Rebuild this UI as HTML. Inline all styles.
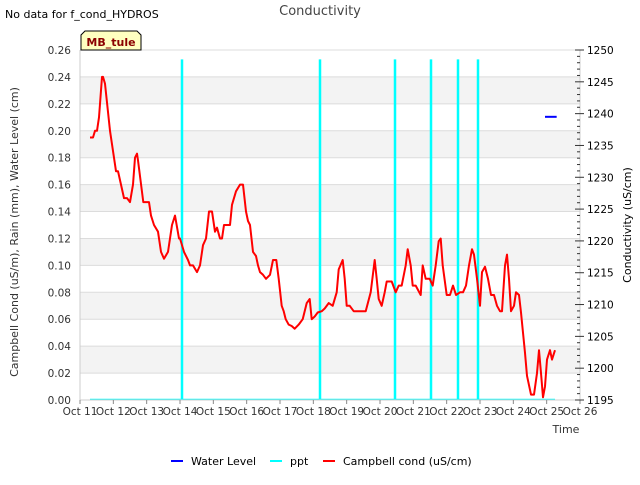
<!DOCTYPE html>
<html><head><meta charset="utf-8">
<style>
body{margin:0;background:#fff;}
svg{font-family:"DejaVu Sans","Liberation Sans",sans-serif;}
</style></head>
<body>
<svg id="chart" width="640" height="480" viewBox="0 0 640 480" xmlns="http://www.w3.org/2000/svg">
<g id="bands"></g>
<g id="grid"></g>
<g id="series"></g>
<g id="axes"></g>
<text x="5" y="18" font-size="11" fill="#000">No data for f_cond_HYDROS</text>
<text x="320" y="15" font-size="13" fill="#444" text-anchor="middle">Conductivity</text>
<g>
<path d="M81,50 L81,35 L85,31 L137,31 L141,35 L141,50 Z" fill="#ffffc0" stroke="#000" stroke-width="1"/>
<text x="111" y="46" font-size="11" font-weight="bold" fill="#8b0000" text-anchor="middle">MB_tule</text>
</g>
<text transform="translate(18,232) rotate(-90)" font-size="11" fill="#333" text-anchor="middle">Campbell Cond (uS/m), Rain (mm), Water Level (cm)</text>
<text transform="translate(631,225) rotate(-90)" font-size="11" fill="#000" text-anchor="middle">Conductivity (uS/cm)</text>
<text x="566" y="433" font-size="11" fill="#333" text-anchor="middle">Time</text>
<g>
<g><line x1="171" y1="461" x2="183" y2="461" stroke="#0000ff" stroke-width="2"/><text x="191" y="465" font-size="11">Water Level</text></g>
<g><line x1="270" y1="461" x2="282" y2="461" stroke="#00ffff" stroke-width="2"/><text x="290" y="465" font-size="11">ppt</text></g>
<g><line x1="323" y1="461" x2="335" y2="461" stroke="#ff0000" stroke-width="2"/><text x="343" y="465" font-size="11">Campbell cond (uS/cm)</text></g>
</g>
</svg>
<script>
const xTickLabels=["Oct 11","Oct 12","Oct 13","Oct 14","Oct 15","Oct 16","Oct 17","Oct 18","Oct 19","Oct 20","Oct 21","Oct 22","Oct 23","Oct 24","Oct 25","Oct 26"];
const yTicks=[0,0.02,0.04,0.06,0.08,0.10,0.12,0.14,0.16,0.18,0.20,0.22,0.24,0.26];
const y2Ticks=[1195,1200,1205,1210,1215,1220,1225,1230,1235,1240,1245,1250];
const condDays=[0.3,0.39,0.45,0.51,0.57,0.66,0.69,0.75,0.9,0.99,1.08,1.14,1.23,1.32,1.41,1.5,1.59,1.65,1.71,1.74,1.9,2.07,2.13,2.22,2.34,2.43,2.52,2.64,2.76,2.85,2.97,3.0,3.12,3.24,3.3,3.39,3.51,3.6,3.69,3.78,3.87,3.96,4.05,4.11,4.2,4.26,4.32,4.44,4.5,4.56,4.68,4.8,4.89,4.98,5.04,5.1,5.19,5.28,5.34,5.4,5.49,5.58,5.7,5.79,5.89,5.96,6.05,6.11,6.17,6.26,6.35,6.44,6.56,6.68,6.8,6.89,6.95,7.04,7.13,7.25,7.34,7.46,7.58,7.7,7.76,7.88,7.94,8.0,8.09,8.21,8.33,8.57,8.72,8.84,8.9,8.96,9.05,9.14,9.2,9.35,9.47,9.56,9.65,9.77,9.83,9.92,9.98,10.07,10.22,10.28,10.37,10.49,10.58,10.67,10.76,10.82,10.88,11.0,11.1,11.19,11.28,11.4,11.49,11.58,11.67,11.76,11.82,11.91,12.0,12.06,12.15,12.24,12.33,12.42,12.51,12.6,12.66,12.75,12.81,12.87,12.93,13.02,13.08,13.17,13.23,13.29,13.35,13.41,13.53,13.62,13.71,13.77,13.83,13.89,13.95,14.01,14.1,14.16,14.25];
const condValues=[0.195,0.195,0.2,0.2,0.21,0.24,0.24,0.235,0.2,0.185,0.17,0.17,0.16,0.15,0.15,0.147,0.16,0.18,0.183,0.178,0.147,0.147,0.137,0.13,0.125,0.11,0.105,0.11,0.13,0.137,0.12,0.12,0.11,0.104,0.1,0.1,0.095,0.1,0.115,0.12,0.14,0.14,0.125,0.128,0.12,0.12,0.13,0.13,0.13,0.145,0.155,0.16,0.16,0.14,0.133,0.13,0.11,0.107,0.1,0.095,0.093,0.09,0.093,0.104,0.104,0.09,0.07,0.066,0.06,0.056,0.055,0.053,0.056,0.06,0.072,0.075,0.06,0.062,0.065,0.066,0.068,0.072,0.07,0.08,0.097,0.104,0.09,0.07,0.07,0.066,0.066,0.066,0.08,0.104,0.09,0.075,0.07,0.08,0.088,0.088,0.08,0.085,0.085,0.1,0.112,0.1,0.085,0.085,0.078,0.1,0.09,0.09,0.085,0.1,0.118,0.12,0.1,0.078,0.078,0.085,0.078,0.08,0.08,0.085,0.1,0.112,0.108,0.09,0.07,0.095,0.099,0.09,0.078,0.078,0.07,0.066,0.066,0.1,0.108,0.09,0.066,0.07,0.08,0.078,0.065,0.05,0.035,0.018,0.004,0.004,0.02,0.037,0.02,0.002,0.01,0.03,0.037,0.03,0.037,0.04];
const pptDays=[3.06,7.2,9.45,10.53,11.34,11.94];
const pptValues=[0.253,0.253,0.253,0.253,0.253,0.253];
const waterDays=[13.95,14.3];
const waterValues=[1239.5,1239.5];

const NS="http://www.w3.org/2000/svg";
const L=80,R=580,T=50,B=400;
const xS=d=>L+d*(R-L)/15;
const yS=v=>B-v*(B-T)/0.26;
const y2S=v=>B-(v-1195)*(B-T)/55;
function mk(tag,attrs,parent){const e=document.createElementNS(NS,tag);for(const k in attrs)e.setAttribute(k,attrs[k]);parent.appendChild(e);return e;}
const bands=document.getElementById('bands'),grid=document.getElementById('grid'),series=document.getElementById('series'),axes=document.getElementById('axes');
for(let i=1;i<yTicks.length-1;i+=2){
  const r=mk('rect',{x:L,y:yS(yTicks[i+1]),width:R-L,height:yS(yTicks[i])-yS(yTicks[i+1]),fill:'#f3f3f3'},bands);
  
  
}
yTicks.forEach(v=>{
  const g=mk('line',{x1:L,x2:R,y1:yS(v),y2:yS(v),stroke:'#dcdcdc','stroke-width':1},grid);
  
  
  const t=mk('text',{x:L-9,y:yS(v)+4,'font-size':10.5,fill:'#333','text-anchor':'end'},axes);
  t.textContent=v.toFixed(2);
  
  
});
mk('line',{x1:L,x2:L,y1:T,y2:B,stroke:'#ccc'},axes);
mk('line',{x1:L,x2:R,y1:B,y2:B,stroke:'#ccc'},axes);
mk('line',{x1:R,x2:R,y1:T,y2:B,stroke:'#ccc'},axes);
xTickLabels.forEach((s,i)=>{
  mk('line',{x1:xS(i),x2:xS(i),y1:B,y2:B+4,stroke:'#888'},axes);
  const t=mk('text',{x:xS(i),y:B+15,'font-size':10.5,fill:'#333','text-anchor':'middle'},axes);
  t.textContent=s;
  
  
});
for(let v=1195;v<=1250;v++){
  const major=(v%5===0);
  mk('line',{x1:R,x2:R-(major?5:3),y1:y2S(v),y2:y2S(v),stroke:'#333'},axes);
}
y2Ticks.forEach(v=>{
  mk('line',{x1:R,x2:R+4,y1:y2S(v),y2:y2S(v),stroke:'#333'},axes);
  const t=mk('text',{x:R+7,y:y2S(v)+4,'font-size':10.5,fill:'#000'},axes);
  t.textContent=v;
  
  
});
const base=mk('line',{x1:xS(0.3),x2:xS(14.25),y1:yS(0)-0.5,y2:yS(0)-0.5,stroke:'#00ffff','stroke-width':1.5},series);


pptDays.forEach((d,i)=>{
  const l=mk('line',{x1:xS(d),x2:xS(d),y1:yS(0),y2:yS(pptValues[i]),stroke:'#00ffff','stroke-width':2.5},series);
  
  
});
const pts=condDays.map((d,i)=>xS(d).toFixed(1)+','+yS(condValues[i]).toFixed(1)).join(' ');
const cl=mk('polyline',{points:pts,fill:'none',stroke:'#ff0000','stroke-width':2,'stroke-linejoin':'round'},series);


const wl=mk('polyline',{points:waterDays.map((d,i)=>xS(d)+','+y2S(waterValues[i])).join(' '),fill:'none',stroke:'#0000ff','stroke-width':2},series);


</script>
</body></html>
